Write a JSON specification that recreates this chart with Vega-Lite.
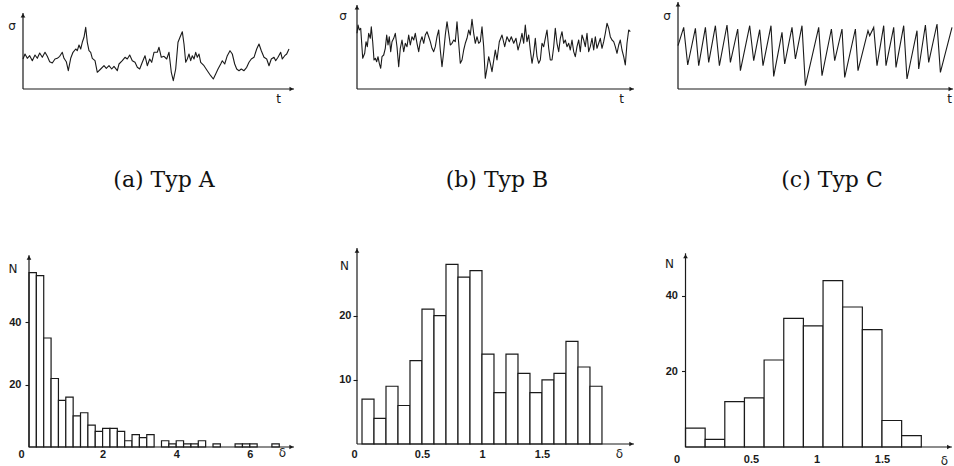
{
  "$schema": "https://vega.github.io/schema/vega-lite/v6.json",
  "background": "white",
  "padding": {"left": 7, "top": 1, "right": 0, "bottom": 0},
  "bounds": "flush",
  "columns": 3,
  "align": "each",
  "spacing": {"row": 159, "column": 44},
  "datasets": {
    "typA": [
      {"t":0,"s":30},{"t":2,"s":35},{"t":4.3,"s":30.7},{"t":6.7,"s":33.3},{"t":9.3,"s":28.3},{"t":12,"s":34},{"t":14.3,"s":30.7},{"t":16.7,"s":36},{"t":19.3,"s":31.7},{"t":22,"s":36.7},{"t":24.3,"s":32.7},{"t":26.7,"s":27.3},{"t":29.3,"s":26},{"t":32,"s":30},{"t":34.3,"s":30.7},{"t":36.7,"s":32.7},{"t":39.3,"s":36.7},{"t":41,"s":30.7},{"t":43.3,"s":27.3},{"t":45.3,"s":18.3},{"t":47.7,"s":30.7},{"t":50,"s":36.7},{"t":52.7,"s":40},{"t":54.3,"s":38.3},{"t":56,"s":44},{"t":57.7,"s":40},{"t":59.3,"s":46.7},{"t":61,"s":51.7},{"t":62.7,"s":61.7},{"t":64.3,"s":46.7},{"t":66,"s":38.3},{"t":67.7,"s":36.7},{"t":69.3,"s":30.7},{"t":72,"s":28.3},{"t":74.3,"s":16.7},{"t":77.7,"s":20},{"t":81,"s":23.3},{"t":83.3,"s":20.7},{"t":86,"s":23.3},{"t":88.7,"s":20},{"t":91,"s":22.7},{"t":94.3,"s":18.3},{"t":96,"s":25},{"t":99.3,"s":28.3},{"t":102,"s":31.7},{"t":104.3,"s":30},{"t":106.7,"s":34},{"t":109.3,"s":28.3},{"t":112,"s":26.7},{"t":114.3,"s":21.7},{"t":116.7,"s":20},{"t":119.3,"s":26.7},{"t":122,"s":33.3},{"t":124.3,"s":23.3},{"t":126.7,"s":30},{"t":128.7,"s":26.7},{"t":131,"s":36.7},{"t":134.3,"s":36.7},{"t":136,"s":41.7},{"t":138.3,"s":31.7},{"t":141,"s":32.7},{"t":143.7,"s":30},{"t":146,"s":36.7},{"t":148.3,"s":16.7},{"t":150.3,"s":8.3},{"t":152.7,"s":20},{"t":155,"s":46.7},{"t":157,"s":51.7},{"t":159.3,"s":57.3},{"t":161,"s":45},{"t":162.7,"s":26.7},{"t":164.3,"s":30},{"t":166,"s":35},{"t":167.7,"s":28.3},{"t":169.3,"s":33.3},{"t":171,"s":30},{"t":172.7,"s":36.7},{"t":174.3,"s":31.7},{"t":176,"s":35},{"t":177.7,"s":26.7},{"t":181,"s":23.3},{"t":184.3,"s":18.3},{"t":187.7,"s":13.3},{"t":190.3,"s":10},{"t":192.7,"s":15},{"t":195,"s":20},{"t":197.7,"s":25},{"t":199.3,"s":28.3},{"t":201.7,"s":25},{"t":204.3,"s":33.3},{"t":207,"s":38.3},{"t":209.3,"s":35},{"t":211.7,"s":25},{"t":213.7,"s":20},{"t":216,"s":18.3},{"t":218.3,"s":20},{"t":221,"s":18.3},{"t":223.7,"s":21.7},{"t":226,"s":26.7},{"t":228.3,"s":30},{"t":231,"s":31.7},{"t":233.7,"s":40},{"t":236,"s":45},{"t":238.3,"s":38.3},{"t":241,"s":31.7},{"t":243.7,"s":30},{"t":246,"s":23.3},{"t":248.3,"s":30},{"t":251,"s":31.7},{"t":252.7,"s":28.3},{"t":255,"s":31.7},{"t":257.7,"s":36.7},{"t":259.3,"s":30},{"t":261.7,"s":33.3},{"t":263.7,"s":35},{"t":266,"s":40}
    ],
    "typB": [
      {"t":0,"s":55.7},{"t":1,"s":64},{"t":2.3,"s":59},{"t":3.7,"s":60.7},{"t":5.7,"s":30.7},{"t":7.7,"s":35.7},{"t":9,"s":47.3},{"t":10.3,"s":42.3},{"t":11.7,"s":55.7},{"t":13.3,"s":50.7},{"t":14.3,"s":62.3},{"t":15.7,"s":47.3},{"t":17,"s":29},{"t":18.3,"s":30.7},{"t":19.7,"s":27.3},{"t":21,"s":32.3},{"t":22.3,"s":25.7},{"t":23.7,"s":20.7},{"t":25,"s":32.3},{"t":26.7,"s":34},{"t":28.3,"s":40.7},{"t":29.7,"s":54},{"t":31,"s":44},{"t":32.3,"s":52.3},{"t":33.7,"s":37.3},{"t":35,"s":47.3},{"t":36.7,"s":50.7},{"t":38.3,"s":55.7},{"t":40,"s":42.3},{"t":41.7,"s":22.3},{"t":43.3,"s":40.7},{"t":45,"s":49},{"t":46.7,"s":37.3},{"t":48.3,"s":45.7},{"t":50,"s":42.3},{"t":51.7,"s":54},{"t":53.3,"s":44},{"t":55,"s":52.3},{"t":56.7,"s":49},{"t":58.3,"s":55.7},{"t":60,"s":45.7},{"t":61.7,"s":37.3},{"t":63.3,"s":47.3},{"t":65,"s":52.3},{"t":66.7,"s":45.7},{"t":68.3,"s":54},{"t":70,"s":57.3},{"t":71.7,"s":52.3},{"t":73.3,"s":47.3},{"t":75,"s":40.7},{"t":76.7,"s":37.3},{"t":78.3,"s":42.3},{"t":80,"s":52.3},{"t":81.7,"s":59},{"t":83.3,"s":39},{"t":85,"s":22.3},{"t":86.7,"s":37.3},{"t":88.3,"s":54},{"t":90,"s":67.3},{"t":91.7,"s":55.7},{"t":93.3,"s":44},{"t":95,"s":45.7},{"t":96.7,"s":49},{"t":98.3,"s":47.3},{"t":100,"s":67.3},{"t":101.7,"s":45.7},{"t":103.3,"s":25.7},{"t":105,"s":29},{"t":106.7,"s":39},{"t":108.3,"s":45.7},{"t":110,"s":50.7},{"t":111.7,"s":59},{"t":113.3,"s":54},{"t":115,"s":69.7},{"t":116.7,"s":55.7},{"t":118.3,"s":45.7},{"t":120,"s":52.3},{"t":121.7,"s":45.7},{"t":123.3,"s":47.3},{"t":125,"s":62.3},{"t":126.7,"s":42.3},{"t":128.3,"s":10.7},{"t":130,"s":20.7},{"t":131.7,"s":32.3},{"t":133.3,"s":25.7},{"t":135,"s":17.3},{"t":138.3,"s":39},{"t":140,"s":29},{"t":142.3,"s":47.3},{"t":145,"s":54},{"t":147.7,"s":42.3},{"t":150,"s":52.3},{"t":152.3,"s":47.3},{"t":154.3,"s":52.3},{"t":156.7,"s":45.7},{"t":159,"s":50.7},{"t":161,"s":39},{"t":163.3,"s":47.3},{"t":165,"s":55.7},{"t":166.7,"s":45.7},{"t":168.3,"s":64},{"t":170,"s":47.3},{"t":171.7,"s":54},{"t":173.3,"s":39},{"t":175,"s":25.7},{"t":176.7,"s":35.7},{"t":178.3,"s":50.7},{"t":180,"s":32.3},{"t":181.7,"s":25.7},{"t":183.3,"s":29},{"t":185,"s":45.7},{"t":186.7,"s":42.3},{"t":188.3,"s":50.7},{"t":190,"s":59},{"t":191.7,"s":40.7},{"t":193.3,"s":29},{"t":195,"s":29},{"t":196.7,"s":42.3},{"t":198.3,"s":60.7},{"t":200,"s":45.7},{"t":201.7,"s":37.3},{"t":203.3,"s":50.7},{"t":205,"s":57.3},{"t":206.7,"s":45.7},{"t":208.3,"s":49},{"t":210,"s":42.3},{"t":211.7,"s":45.7},{"t":213.3,"s":39},{"t":215,"s":49},{"t":216.7,"s":37.3},{"t":218.3,"s":32.3},{"t":220,"s":42.3},{"t":221.7,"s":49},{"t":223.3,"s":37.3},{"t":225,"s":54},{"t":226.7,"s":49},{"t":228.3,"s":42.3},{"t":230,"s":55.7},{"t":231.7,"s":37.3},{"t":233.3,"s":42.3},{"t":235,"s":50.7},{"t":236.7,"s":39},{"t":238.3,"s":52.3},{"t":240,"s":40.7},{"t":241.7,"s":45.7},{"t":243.3,"s":50.7},{"t":245,"s":40.7},{"t":246.7,"s":47.3},{"t":248.3,"s":55.7},{"t":250,"s":65.7},{"t":251.7,"s":60.7},{"t":253.3,"s":52.3},{"t":255,"s":49},{"t":256.7,"s":47.3},{"t":258.3,"s":42.3},{"t":260,"s":35.7},{"t":261.7,"s":44},{"t":263.3,"s":49},{"t":265,"s":39},{"t":266.7,"s":32.3},{"t":268.3,"s":24},{"t":270,"s":45.7},{"t":271.7,"s":59},{"t":273.3,"s":57.3}
    ],
    "typC": [
      {"t":0,"s":43.3},{"t":5.7,"s":61.6},{"t":9.7,"s":24},{"t":17.4,"s":60.6},{"t":20.7,"s":23.3},{"t":27.4,"s":61.6},{"t":30.7,"s":26.6},{"t":37.4,"s":63.3},{"t":41.4,"s":23.3},{"t":49,"s":64},{"t":52.4,"s":26.6},{"t":59.7,"s":60},{"t":62.4,"s":18.3},{"t":71.7,"s":63.3},{"t":75.7,"s":28.3},{"t":81.7,"s":59.3},{"t":85,"s":23.3},{"t":93,"s":63.3},{"t":95.7,"s":12.6},{"t":104,"s":56.6},{"t":106.7,"s":25},{"t":114,"s":61.6},{"t":117.4,"s":30},{"t":124,"s":63.3},{"t":127.4,"s":3.3},{"t":140.7,"s":61.6},{"t":144,"s":13.3},{"t":153.4,"s":60},{"t":156.7,"s":28.3},{"t":164,"s":60},{"t":166.7,"s":11.6},{"t":177.4,"s":60},{"t":180,"s":18.3},{"t":190,"s":58.3},{"t":191.7,"s":53.3},{"t":195.7,"s":61.6},{"t":199,"s":23.3},{"t":205.7,"s":63.3},{"t":208,"s":23.3},{"t":215.7,"s":61.6},{"t":218,"s":21.6},{"t":225.7,"s":63.3},{"t":229,"s":10},{"t":239,"s":58.3},{"t":240.7,"s":20},{"t":247.4,"s":64},{"t":250.7,"s":26.6},{"t":259,"s":65},{"t":262.4,"s":16.6},{"t":274,"s":61.6}
    ],
    "histA": [
      {"lo":0,"hi":0.2,"n":56},{"lo":0.2,"hi":0.4,"n":55},{"lo":0.4,"hi":0.6,"n":35},{"lo":0.6,"hi":0.8,"n":22},{"lo":0.8,"hi":1.0,"n":15},{"lo":1.0,"hi":1.2,"n":16},{"lo":1.2,"hi":1.4,"n":10},{"lo":1.4,"hi":1.6,"n":11},{"lo":1.6,"hi":1.8,"n":7},{"lo":1.8,"hi":2.0,"n":5},{"lo":2.0,"hi":2.2,"n":6},{"lo":2.2,"hi":2.4,"n":6},{"lo":2.4,"hi":2.6,"n":5},{"lo":2.6,"hi":2.8,"n":2},{"lo":2.8,"hi":3.0,"n":4},{"lo":3.0,"hi":3.2,"n":3},{"lo":3.2,"hi":3.4,"n":4},{"lo":3.6,"hi":3.8,"n":2},{"lo":3.8,"hi":4.0,"n":1},{"lo":4.0,"hi":4.2,"n":2},{"lo":4.2,"hi":4.4,"n":1},{"lo":4.4,"hi":4.6,"n":1},{"lo":4.6,"hi":4.8,"n":2},{"lo":5.0,"hi":5.2,"n":1},{"lo":5.6,"hi":5.8,"n":1},{"lo":5.8,"hi":6.0,"n":1},{"lo":6.0,"hi":6.2,"n":1},{"lo":6.6,"hi":6.8,"n":1}
    ],
    "histB": [
      {"lo":0,"hi":0.1,"n":7},{"lo":0.1,"hi":0.2,"n":4},{"lo":0.2,"hi":0.3,"n":9},{"lo":0.3,"hi":0.4,"n":6},{"lo":0.4,"hi":0.5,"n":13},{"lo":0.5,"hi":0.6,"n":21},{"lo":0.6,"hi":0.7,"n":20},{"lo":0.7,"hi":0.8,"n":28},{"lo":0.8,"hi":0.9,"n":26},{"lo":0.9,"hi":1.0,"n":27},{"lo":1.0,"hi":1.1,"n":14},{"lo":1.1,"hi":1.2,"n":8},{"lo":1.2,"hi":1.3,"n":14},{"lo":1.3,"hi":1.4,"n":11},{"lo":1.4,"hi":1.5,"n":8},{"lo":1.5,"hi":1.6,"n":10},{"lo":1.6,"hi":1.7,"n":11},{"lo":1.7,"hi":1.8,"n":16},{"lo":1.8,"hi":1.9,"n":12},{"lo":1.9,"hi":2.0,"n":9}
    ],
    "histC": [
      {"lo":0,"hi":0.15,"n":5},{"lo":0.15,"hi":0.3,"n":2},{"lo":0.3,"hi":0.45,"n":12},{"lo":0.45,"hi":0.6,"n":13},{"lo":0.6,"hi":0.75,"n":23},{"lo":0.75,"hi":0.9,"n":34},{"lo":0.9,"hi":1.05,"n":32},{"lo":1.05,"hi":1.2,"n":44},{"lo":1.2,"hi":1.35,"n":37},{"lo":1.35,"hi":1.5,"n":31},{"lo":1.5,"hi":1.65,"n":7},{"lo":1.65,"hi":1.8,"n":3}
    ]
  },
  "concat": [
    {
      "width": 290, "height": 87,
      "title": {"text": "(a) Typ A", "orient": "bottom", "anchor": "middle", "frame": "group", "offset": 65, "dx": -4},
      "layer": [
        {"data": {"name": "typA"},
         "mark": {"type": "line", "color": "#1a1a1a", "strokeWidth": 1.1, "strokeJoin": "round"},
         "encoding": {
           "x": {"field": "t", "type": "quantitative", "scale": {"domain": [0, 290], "nice": false, "zero": false},
                 "axis": {"domain": false, "ticks": false, "labels": false, "grid": false, "title": "t", "titleAngle": 0, "titleX": 255, "titleY": 9.5, "titleAlign": "center", "titleBaseline": "middle"}},
           "y": {"field": "s", "type": "quantitative", "scale": {"domain": [0, 87], "nice": false},
                 "axis": {"domain": false, "ticks": false, "labels": false, "grid": false, "title": "σ", "titleAngle": 0, "titleX": -11.5, "titleY": 23, "titleAlign": "center", "titleBaseline": "middle"}}
         }},
        {"data": {"values": [{}]}, "mark": {"type": "rule", "color": "#1a1a1a", "strokeWidth": 1.2},
         "encoding": {"x": {"datum": 0}, "y": {"datum": 0}, "y2": {"datum": 76}}},
        {"data": {"values": [{}]}, "mark": {"type": "rule", "color": "#1a1a1a", "strokeWidth": 1.2},
         "encoding": {"x": {"datum": 0}, "x2": {"datum": 271}, "y": {"datum": 0}}},
        {"data": {"values": [{}]}, "mark": {"type": "point", "shape": "triangle-up", "filled": true, "color": "#1a1a1a", "size": 22, "opacity": 1},
         "encoding": {"x": {"datum": 0}, "y": {"datum": 73.5}}},
        {"data": {"values": [{}]}, "mark": {"type": "point", "shape": "triangle-right", "filled": true, "color": "#1a1a1a", "size": 22, "opacity": 1},
         "encoding": {"x": {"datum": 268.5}, "y": {"datum": 0}}}
      ]
    },
    {
      "width": 277, "height": 87,
      "title": {"text": "(b) Typ B", "orient": "bottom", "anchor": "middle", "frame": "group", "offset": 65, "dx": 1.5},
      "layer": [
        {"data": {"name": "typB"},
         "mark": {"type": "line", "color": "#1a1a1a", "strokeWidth": 1.1, "strokeJoin": "round"},
         "encoding": {
           "x": {"field": "t", "type": "quantitative", "scale": {"domain": [0, 277], "nice": false, "zero": false},
                 "axis": {"domain": false, "ticks": false, "labels": false, "grid": false, "title": "t", "titleAngle": 0, "titleX": 264, "titleY": 9.5, "titleAlign": "center", "titleBaseline": "middle"}},
           "y": {"field": "s", "type": "quantitative", "scale": {"domain": [0, 87], "nice": false},
                 "axis": {"domain": false, "ticks": false, "labels": false, "grid": false, "title": "σ", "titleAngle": 0, "titleX": -14.5, "titleY": 13, "titleAlign": "center", "titleBaseline": "middle"}}
         }},
        {"data": {"values": [{}]}, "mark": {"type": "rule", "color": "#1a1a1a", "strokeWidth": 1.2},
         "encoding": {"x": {"datum": 0}, "y": {"datum": 0}, "y2": {"datum": 84}}},
        {"data": {"values": [{}]}, "mark": {"type": "rule", "color": "#1a1a1a", "strokeWidth": 1.2},
         "encoding": {"x": {"datum": 0}, "x2": {"datum": 277}, "y": {"datum": 0}}},
        {"data": {"values": [{}]}, "mark": {"type": "point", "shape": "triangle-up", "filled": true, "color": "#1a1a1a", "size": 22, "opacity": 1},
         "encoding": {"x": {"datum": 0}, "y": {"datum": 81.5}}},
        {"data": {"values": [{}]}, "mark": {"type": "point", "shape": "triangle-right", "filled": true, "color": "#1a1a1a", "size": 22, "opacity": 1},
         "encoding": {"x": {"datum": 274.5}, "y": {"datum": 0}}}
      ]
    },
    {
      "width": 275, "height": 87,
      "title": {"text": "(c) Typ C", "orient": "bottom", "anchor": "middle", "frame": "group", "offset": 65, "dx": 16.5},
      "layer": [
        {"data": {"name": "typC"},
         "mark": {"type": "line", "color": "#1a1a1a", "strokeWidth": 1.1, "strokeJoin": "miter"},
         "encoding": {
           "x": {"field": "t", "type": "quantitative", "scale": {"domain": [0, 275], "nice": false, "zero": false},
                 "axis": {"domain": false, "ticks": false, "labels": false, "grid": false, "title": "t", "titleAngle": 0, "titleX": 271, "titleY": 9.5, "titleAlign": "center", "titleBaseline": "middle"}},
           "y": {"field": "s", "type": "quantitative", "scale": {"domain": [0, 87], "nice": false},
                 "axis": {"domain": false, "ticks": false, "labels": false, "grid": false, "title": "σ", "titleAngle": 0, "titleX": -11.5, "titleY": 13, "titleAlign": "center", "titleBaseline": "middle"}}
         }},
        {"data": {"values": [{}]}, "mark": {"type": "rule", "color": "#1a1a1a", "strokeWidth": 1.2},
         "encoding": {"x": {"datum": 0}, "y": {"datum": 0}, "y2": {"datum": 87}}},
        {"data": {"values": [{}]}, "mark": {"type": "rule", "color": "#1a1a1a", "strokeWidth": 1.2},
         "encoding": {"x": {"datum": 0}, "x2": {"datum": 275}, "y": {"datum": 0}}},
        {"data": {"values": [{}]}, "mark": {"type": "point", "shape": "triangle-up", "filled": true, "color": "#1a1a1a", "size": 22, "opacity": 1},
         "encoding": {"x": {"datum": 0}, "y": {"datum": 84.5}}},
        {"data": {"values": [{}]}, "mark": {"type": "point", "shape": "triangle-right", "filled": true, "color": "#1a1a1a", "size": 22, "opacity": 1},
         "encoding": {"x": {"datum": 272.5}, "y": {"datum": 0}}}
      ]
    },
    {
      "width": 290, "height": 199,
      "layer": [
        {"data": {"name": "histA"},
         "mark": {"type": "bar", "fill": "white", "stroke": "#1a1a1a", "strokeWidth": 1.2},
         "encoding": {
           "x": {"field": "lo", "type": "quantitative", "scale": {"domain": [-0.163, 7.717], "nice": false, "zero": false},
                 "axis": {"values": [0, 2, 4, 6], "format": "~g", "domain": false, "ticks": false, "grid": false, "labelFlush": false, "labelPadding": 1,
                          "labelOffset": {"condition": {"test": "datum.value === 0", "value": -8}, "value": 0},
                          "title": "δ", "titleAngle": 0, "titleX": 259, "titleY": 5, "titleAlign": "center", "titleBaseline": "middle"}},
           "x2": {"field": "hi"},
           "y": {"field": "n", "type": "quantitative", "scale": {"domain": [0, 63.9], "nice": false},
                 "axis": {"values": [20, 40], "domain": false, "grid": false, "ticks": true, "tickSize": 4, "offset": -6, "labelPadding": 4,
                          "title": "N", "titleAngle": 0, "titleX": -16.5, "titleY": 20, "titleAlign": "center", "titleBaseline": "middle"}},
           "y2": {"datum": 0}
         }},
        {"data": {"values": [{}]}, "mark": {"type": "rule", "color": "#1a1a1a", "strokeWidth": 1.2},
         "encoding": {"x": {"datum": 0}, "y": {"datum": 0}, "y2": {"datum": 61.6}}},
        {"data": {"values": [{}]}, "mark": {"type": "rule", "color": "#1a1a1a", "strokeWidth": 1.2},
         "encoding": {"x": {"datum": 0}, "x2": {"datum": 7.2}, "y": {"datum": 0}}},
        {"data": {"values": [{}]}, "mark": {"type": "point", "shape": "triangle-up", "filled": true, "color": "#1a1a1a", "size": 22, "opacity": 1},
         "encoding": {"x": {"datum": 0}, "y": {"datum": 60.8}}},
        {"data": {"values": [{}]}, "mark": {"type": "point", "shape": "triangle-right", "filled": true, "color": "#1a1a1a", "size": 22, "opacity": 1},
         "encoding": {"x": {"datum": 7.13}, "y": {"datum": 0}}}
      ]
    },
    {
      "width": 277, "height": 199,
      "layer": [
        {"data": {"name": "histB"},
         "mark": {"type": "bar", "fill": "white", "stroke": "#1a1a1a", "strokeWidth": 1.2},
         "encoding": {
           "x": {"field": "lo", "type": "quantitative", "scale": {"domain": [-0.0417, 2.267], "nice": false, "zero": false},
                 "axis": {"values": [0, 0.5, 1, 1.5], "format": "~g", "domain": false, "ticks": false, "grid": false, "labelFlush": false, "labelPadding": 1,
                          "labelOffset": {"condition": {"test": "datum.value === 0", "value": -8}, "value": 0},
                          "title": "δ", "titleAngle": 0, "titleX": 262, "titleY": 6.5, "titleAlign": "center", "titleBaseline": "middle"}},
           "x2": {"field": "hi"},
           "y": {"field": "n", "type": "quantitative", "scale": {"domain": [-0.47, 30.54], "nice": false, "zero": false},
                 "axis": {"values": [10, 20], "domain": false, "grid": false, "ticks": true, "tickSize": 4, "labelPadding": 2,
                          "title": "N", "titleAngle": 0, "titleX": -13, "titleY": 17, "titleAlign": "center", "titleBaseline": "middle"}},
           "y2": {"datum": 0}
         }},
        {"data": {"values": [{}]}, "mark": {"type": "rule", "color": "#1a1a1a", "strokeWidth": 1.2},
         "encoding": {"x": {"datum": -0.0417}, "y": {"datum": 0}, "y2": {"datum": 30.54}}},
        {"data": {"values": [{}]}, "mark": {"type": "rule", "color": "#1a1a1a", "strokeWidth": 1.2},
         "encoding": {"x": {"datum": -0.0417}, "x2": {"datum": 2.267}, "y": {"datum": 0}}},
        {"data": {"values": [{}]}, "mark": {"type": "point", "shape": "triangle-up", "filled": true, "color": "#1a1a1a", "size": 22, "opacity": 1},
         "encoding": {"x": {"datum": -0.0417}, "y": {"datum": 30.1}}},
        {"data": {"values": [{}]}, "mark": {"type": "point", "shape": "triangle-right", "filled": true, "color": "#1a1a1a", "size": 22, "opacity": 1},
         "encoding": {"x": {"datum": 2.245}, "y": {"datum": 0}}}
      ]
    },
    {
      "width": 275, "height": 199,
      "layer": [
        {"data": {"name": "histC"},
         "mark": {"type": "bar", "fill": "white", "stroke": "#1a1a1a", "strokeWidth": 1.2},
         "encoding": {
           "x": {"field": "lo", "type": "quantitative", "scale": {"domain": [-0.0573, 2.042], "nice": false, "zero": false},
                 "axis": {"values": [0, 0.5, 1, 1.5], "format": "~g", "domain": false, "ticks": false, "grid": false, "labelFlush": false, "labelPadding": 6,
                          "labelOffset": {"condition": {"test": "datum.value === 0", "value": -9}, "value": 0},
                          "title": "δ", "titleAngle": 0, "titleX": 266, "titleY": 13, "titleAlign": "center", "titleBaseline": "middle"}},
           "x2": {"field": "hi"},
           "y": {"field": "n", "type": "quantitative", "scale": {"domain": [0, 52.6], "nice": false},
                 "axis": {"values": [20, 40], "domain": false, "grid": false, "ticks": true, "tickSize": 4, "offset": -7.5, "labelPadding": 4,
                          "title": "N", "titleAngle": 0, "titleX": -16.5, "titleY": 15, "titleAlign": "center", "titleBaseline": "middle"}},
           "y2": {"datum": 0}
         }},
        {"data": {"values": [{}]}, "mark": {"type": "rule", "color": "#1a1a1a", "strokeWidth": 1.2},
         "encoding": {"x": {"datum": 0}, "y": {"datum": 0}, "y2": {"datum": 51.2}}},
        {"data": {"values": [{}]}, "mark": {"type": "rule", "color": "#1a1a1a", "strokeWidth": 1.2},
         "encoding": {"x": {"datum": 0}, "x2": {"datum": 2.034}, "y": {"datum": 0}}},
        {"data": {"values": [{}]}, "mark": {"type": "point", "shape": "triangle-up", "filled": true, "color": "#1a1a1a", "size": 22, "opacity": 1},
         "encoding": {"x": {"datum": 0}, "y": {"datum": 50.4}}},
        {"data": {"values": [{}]}, "mark": {"type": "point", "shape": "triangle-right", "filled": true, "color": "#1a1a1a", "size": 22, "opacity": 1},
         "encoding": {"x": {"datum": 2.012}, "y": {"datum": 0}}}
      ]
    }
  ],
  "config": {
    "view": {"stroke": null},
    "title": {"font": "DejaVu Serif", "fontSize": 22, "fontWeight": "normal", "color": "#111111"},
    "axis": {
      "labelFont": "Liberation Sans", "labelFontSize": 11, "labelFontWeight": "bold", "labelColor": "#1a1a1a",
      "titleFont": "DejaVu Sans", "titleFontSize": 12, "titleFontWeight": "normal", "titleColor": "#1a1a1a",
      "tickColor": "#1a1a1a", "tickWidth": 1.1
    }
  }
}
